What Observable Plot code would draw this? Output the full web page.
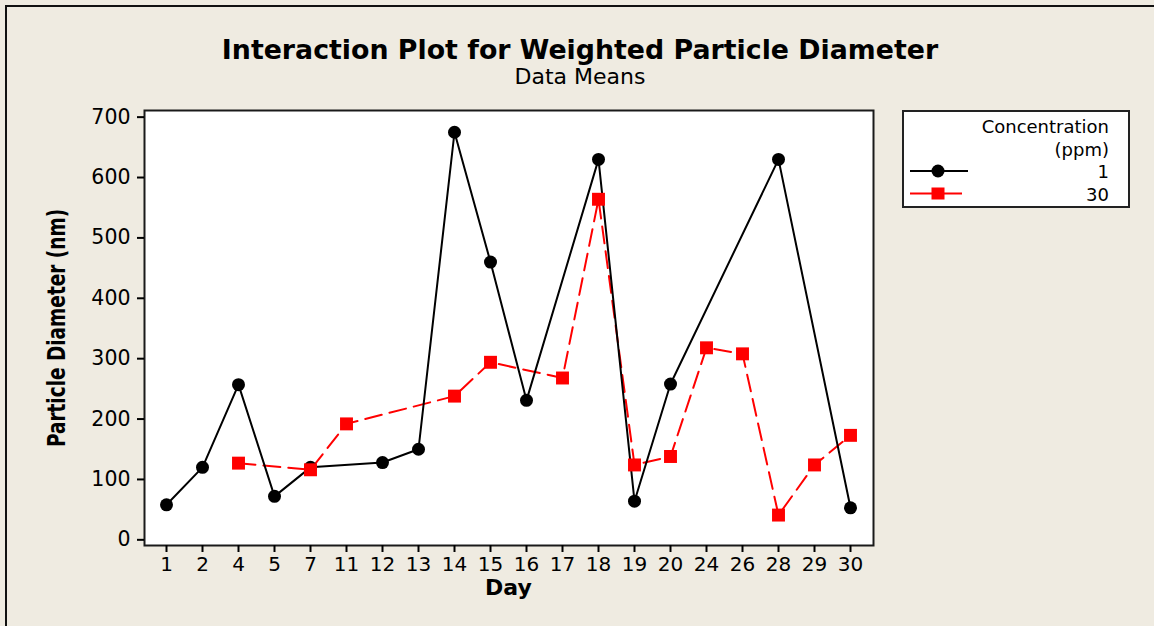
<!DOCTYPE html>
<html><head><meta charset="utf-8">
<script src="https://cdn.jsdelivr.net/npm/d3@7"></script>
<script src="https://cdn.jsdelivr.net/npm/@observablehq/plot@0.6"></script>
<style>
body{margin:0;background:#EFEBE1;font-family:"DejaVu Sans",sans-serif;color:#000;}
#wrap{position:relative;width:1154px;height:626px;overflow:hidden;background:#EFEBE1;}
.bt{position:absolute;left:5px;top:5px;width:1160px;height:2px;background:#111;}
.bl{position:absolute;left:5px;top:5px;width:2px;height:640px;background:#111;}
#chart{position:absolute;left:0;top:0;}
#title{position:absolute;left:0;width:1160px;top:37px;text-align:center;font-weight:bold;font-size:26.8px;line-height:26.8px;white-space:nowrap;}
#subtitle{position:absolute;left:0;width:1160px;top:66px;text-align:center;font-size:22px;line-height:22px;white-space:nowrap;}
#xlabel{position:absolute;left:0;width:1017px;top:577px;text-align:center;font-weight:bold;font-size:22px;line-height:22px;}
#ylabel{position:absolute;left:57px;top:328px;font-weight:bold;font-size:24px;line-height:24px;white-space:nowrap;transform:translate(-50%,-50%) rotate(-90deg) scaleX(0.77);}
#legend{position:absolute;left:902px;top:110px;width:224px;height:94px;border:2px solid #222;background:#fff;font-size:18px;line-height:18px;}
#legend .t{position:absolute;right:19px;white-space:nowrap;}
#legend svg{position:absolute;left:0;top:0;}
</style></head><body>
<div id="wrap">
  <div class="bt"></div><div class="bl"></div>
  <div id="chart"></div>
  <div id="title">Interaction Plot for Weighted Particle Diameter</div>
  <div id="subtitle">Data Means</div>
  <div id="ylabel">Particle Diameter (nm)</div>
  <div id="xlabel">Day</div>
  <div id="legend"></div>
</div>
<script>
const days = ["1","2","4","5","7","11","12","13","14","15","16","17","18","19","20","24","26","28","29","30"];
const conc1 = [58,120,257,72,120,null,128,150,675,460,231,null,630,64,258,null,null,630,null,53];
const conc30 = [null,null,127,null,116,192,null,null,238,294,null,268,564,124,138,318,308,41,124,173];
const yTicks = [0,100,200,300,400,500,600,700];
const seriesNames = ["1","30"];
const legendTitle = ["Concentration","(ppm)"];

const s1 = days.map((d,i)=>({day:d, value:conc1[i]})).filter(d=>d.value!=null);
const s30 = days.map((d,i)=>({day:d, value:conc30[i]})).filter(d=>d.value!=null);

const plot = Plot.plot({
  width:1154, height:626,
  marginLeft:144, marginRight:281, marginTop:110, marginBottom:81,
  style:{background:"transparent", fontFamily:"DejaVu Sans", color:"#000", overflow:"visible"},
  x:{type:"point", domain:days, range:[161.7, 855], padding:0, label:null},
  y:{domain:[-9.4,711], label:null},
  marks:[
    Plot.frame({fill:"white", stroke:"#1a1a1a", strokeWidth:2}),
    Plot.axisY({ticks:yTicks, tickSize:7, tickPadding:7, fontSize:20.5, strokeWidth:2, label:null, tickFormat:d=>String(d)}),
    Plot.axisX({tickSize:7, tickPadding:4, fontSize:20, strokeWidth:2, label:null}),
    Plot.line(s30,{x:"day", y:"value", stroke:"#FF0000", strokeWidth:2, strokeDasharray:"17,8"}),
    Plot.line(s1,{x:"day", y:"value", stroke:"#000", strokeWidth:2}),
    Plot.dot(s1,{x:"day", y:"value", symbol:"circle", r:6.5, fill:"#000", stroke:"none"}),
    Plot.dot(s30,{x:"day", y:"value", symbol:"square", r:7.3, fill:"#FF0000", stroke:"none"})
  ]
});
document.getElementById("chart").appendChild(plot);

const lg = document.getElementById("legend");
lg.innerHTML = `
<div class="t" style="top:6px">${legendTitle[0]}</div>
<div class="t" style="top:29px">${legendTitle[1]}</div>
<div class="t" style="top:51px">${seriesNames[0]}</div>
<div class="t" style="top:74px">${seriesNames[1]}</div>
<svg width="224" height="94">
  <line x1="6" x2="64" y1="59" y2="59" stroke="#000" stroke-width="2"/>
  <circle cx="34" cy="59" r="6.5" fill="#000"/>
  <line x1="6" x2="58" y1="81.5" y2="81.5" stroke="#FF0000" stroke-width="2"/>
  <rect x="27.5" y="75.5" width="13" height="12" fill="#FF0000"/>
</svg>`;
</script>
</body></html>
